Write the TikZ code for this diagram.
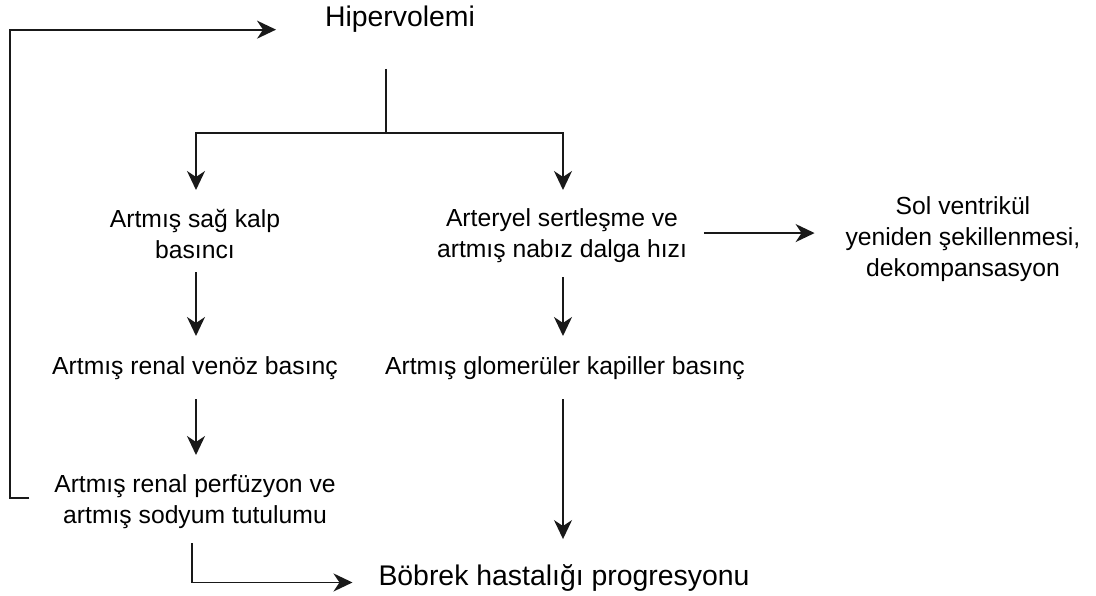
\documentclass[tikz,border=0pt]{standalone}
\usepackage{fontspec}
\setmainfont{Liberation Sans}
\usetikzlibrary{arrows.meta,calc}
\begin{document}
\begin{tikzpicture}[x=1pt,y=-1pt,
  lbl/.style={inner sep=0pt,outer sep=0pt,align=center,text=black,
    font=\fontsize{24.7}{31}\selectfont},
  big/.style={inner sep=0pt,outer sep=0pt,text=black,
    font=\fontsize{28.4}{34}\selectfont},
  conn/.style={line width=1.8pt,draw=black!90},
  arr/.style={conn,-{Stealth[length=19pt,width=18pt,inset=6pt]}}]
\useasboundingbox (0,0) rectangle (1096,596);
\fill[white] (0,0) rectangle (1096,596);
% nodes
\node[big,anchor=base] (hip) at (400,27) {Hipervolemi};
\node[lbl,anchor=north] (rsk) at (195,209) {Artmış sağ kalp\\basıncı};
\node[lbl,anchor=north] (art) at (562,209) {Arteryel sertleşme ve\\artmış nabız dalga hızı};
\node[lbl,anchor=north] (sol) at (963,197) {Sol ventrikül\\yeniden şekillenmesi,\\dekompansasyon};
\node[lbl,anchor=north] (rvb) at (195,357) {Artmış renal venöz basınç};
\node[lbl,anchor=north] (gkb) at (565,357) {Artmış glomerüler kapiller basınç};
\node[lbl,anchor=north] (rps) at (195,475) {Artmış renal perfüzyon ve\\artmış sodyum tutulumu};
\node[big,anchor=base] (bhp) at (564,585) {Böbrek hastalığı progresyonu};
% connector end points
\coordinate (j0) at ($(hip.south)+(-14,36)$);
\coordinate (j) at ($(hip.south)+(-14,100)$);
\coordinate (rskN) at ($(rsk.north)+(1,-19)$);
\coordinate (artN) at ($(art.north)+(1,-19)$);
\coordinate (rskS) at ($(rsk.south)+(1,14)$);
\coordinate (rvbN) at ($(rvb.north)+(1,-21)$);
\coordinate (artS) at ($(art.south)+(1,14)$);
\coordinate (gkbN) at ($(gkb.north)+(-2,-21)$);
\coordinate (rvbS) at ($(rvb.south)+(1,19)$);
\coordinate (rpsN) at ($(rps.north)+(1,-20)$);
\coordinate (gkbS) at ($(gkb.south)+(-2,19)$);
\coordinate (bhpN) at ($(bhp.north)+(-1,-25)$);
\coordinate (artE) at ($(art.east)+(17,-3)$);
\coordinate (solW) at ($(sol.west)+(-31,0)$);
\coordinate (rpsS) at ($(rps.south)+(-3,14)$);
\coordinate (bhpW) at ($(bhp.west)+(-26,5)$);
\coordinate (fbS) at ($(rps.west)+(-25,-4)$);
\coordinate (fbE) at ($(hip.west)+(-49,10)$);
% connectors
\draw[conn] (j0) -- (j);
\draw[arr] (j) -| (rskN);
\draw[arr] (j) -| (artN);
\draw[arr] (rskS) -- (rvbN);
\draw[arr] (artS) -- (gkbN);
\draw[arr] (rvbS) -- (rpsN);
\draw[arr] (gkbS) -- (bhpN);
\draw[arr] (artE) -- (artE -| solW);
\draw[arr] (rpsS) |- (bhpW);
\draw[arr] (fbS) -- ++(-19,0) |- (fbE);
\end{tikzpicture}
\end{document}
